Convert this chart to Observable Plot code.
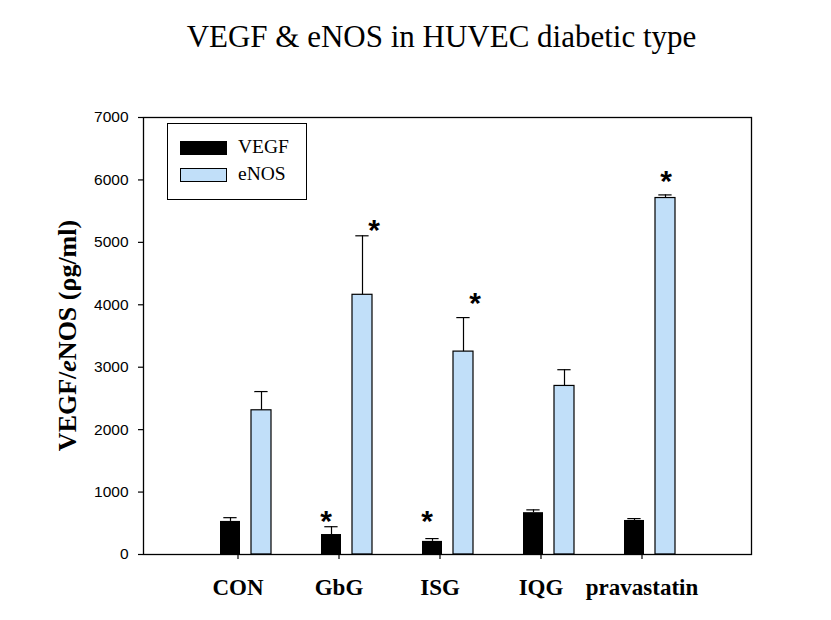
<!DOCTYPE html>
<html>
<head>
<meta charset="utf-8">
<script src="https://cdn.jsdelivr.net/npm/d3@7"></script>
<script src="https://cdn.jsdelivr.net/npm/@observablehq/plot@0.6"></script>
<style>
  html, body { margin: 0; padding: 0; background: #fff; }
  #wrap { position: relative; width: 831px; height: 620px; background: #fff; overflow: hidden; }
  #title { height: 80px; box-sizing: border-box; padding-top: 19px; padding-left: 52px; width: 831px;
           text-align: center; font-family: "Liberation Serif", "Times New Roman", serif; font-size: 31px;
           line-height: 1.15; color: #000; white-space: nowrap; }
  #legend { position: absolute; left: 167px; top: 123px; width: 140px; height: 77px; box-sizing: border-box;
            border: 1.3px solid #000; background: #fff; }
  .lg-row { position: absolute; left: 12px; height: 14px; }
  .lg-sw { position: absolute; left: 0; top: 0; width: 47px; height: 14px; box-sizing: border-box; }
  .lg-tx { position: absolute; left: 58px; top: -4px; font-family: "Liberation Serif", "Times New Roman", serif;
           font-size: 19.5px; line-height: 20px; color: #000; white-space: nowrap; }
</style>
</head>
<body>
<div id="wrap">
  <div id="title">VEGF &amp; eNOS in HUVEC diabetic type</div>
  <div id="chart"></div>
  <div id="legend"></div>
</div>
<script>
// ---- data ----
const categories = ["CON", "GbG", "ISG", "IQG", "pravastatin"];
const seriesNames = ["VEGF", "eNOS"];
const vegfMean = [530, 320, 210, 670, 545];
const vegfErr  = [60, 125, 45, 45, 30];
const enosMean = [2310, 4160, 3250, 2700, 5710];
const enosErr  = [300, 945, 545, 260, 50];
const yTicks = [0, 1000, 2000, 3000, 4000, 5000, 6000, 7000];
// significance markers (category, value level where the asterisk sits)
const vegfStarCats = ["GbG", "ISG"];
const vegfStarLevel = [636, 636];
const enosStarCats = ["GbG", "ISG", "pravastatin"];
const enosStarLevel = [5300, 4140, 6090];

const seriesColors = ["#000000", "#c1dff9"];

const vegfRows = categories.map((c, i) => ({cat: c, mean: vegfMean[i], err: vegfErr[i]}));
const enosRows = categories.map((c, i) => ({cat: c, mean: enosMean[i], err: enosErr[i]}));
const vegfStars = vegfStarCats.map((c, i) => ({cat: c, level: vegfStarLevel[i]}));
const enosStars = enosStarCats.map((c, i) => ({cat: c, level: enosStarLevel[i]}));

const serif = "Liberation Serif, Times New Roman, serif";
const sans = "Liberation Sans, Arial, sans-serif";

const starStyle = {text: () => "*", fontSize: 30, fontWeight: "bold", fontFamily: sans, fill: "black", dy: 7};

const chart = Plot.plot({
  width: 831,
  height: 540,
  marginTop: 37,
  marginBottom: 66,
  marginLeft: 143,
  marginRight: 80,
  style: {background: "#fff", color: "#000", overflow: "visible"},
  x: {type: "band", domain: categories, paddingInner: 0.5, paddingOuter: 0.75},
  y: {domain: [0, 7000]},
  marks: [
    Plot.barY(vegfRows, {x: "cat", y: "mean", fill: seriesColors[0], insetRight: 31}),
    Plot.barY(enosRows, {x: "cat", y: "mean", fill: seriesColors[1], stroke: "black", strokeWidth: 1.2, insetLeft: 31}),
    Plot.ruleX(vegfRows, {x: "cat", y1: "mean", y2: d => d.mean + d.err, dx: -15.5, stroke: "black", strokeWidth: 1.2}),
    Plot.tickY(vegfRows, {x: "cat", y: d => d.mean + d.err, insetLeft: 3.3, insetRight: 34.4, stroke: "black", strokeWidth: 1.2}),
    Plot.ruleX(enosRows, {x: "cat", y1: "mean", y2: d => d.mean + d.err, dx: 15.5, stroke: "black", strokeWidth: 1.2}),
    Plot.tickY(enosRows, {x: "cat", y: d => d.mean + d.err, insetLeft: 34.3, insetRight: 3.4, stroke: "black", strokeWidth: 1.2}),
    Plot.text(vegfStars, {x: "cat", y: "level", dx: -21, ...starStyle}),
    Plot.text(enosStars.filter(d => d.cat !== "pravastatin"), {x: "cat", y: "level", dx: 27, ...starStyle}),
    Plot.text(enosStars.filter(d => d.cat === "pravastatin"), {x: "cat", y: "level", dx: 16, ...starStyle}),
    Plot.frame({stroke: "black", strokeWidth: 1.3}),
    Plot.axisY({ticks: yTicks, tickFormat: d => String(d), tickSize: 5, tickPadding: 10, fontSize: 15.5, fontFamily: sans, label: null, strokeWidth: 1.2}),
    Plot.axisX({tickSize: 5, tickPadding: 19, fontSize: 23, fontWeight: "bold", fontFamily: serif, dx: -8, label: null, strokeWidth: 1.2})
  ]
});

document.getElementById("chart").appendChild(chart);

// y-axis title with italic "e"
const yLab = d3.select(chart).append("text")
  .attr("transform", `translate(76, ${(37 + (540 - 66)) / 2}) rotate(-90)`)
  .attr("text-anchor", "middle")
  .attr("font-family", serif)
  .attr("font-size", 26)
  .attr("font-weight", "bold")
  .attr("fill", "#000");
yLab.append("tspan").text("VEGF/");
yLab.append("tspan").attr("font-style", "italic").text("e");
yLab.append("tspan").text("NOS (ρg/ml)");

// legend
const legend = d3.select("#legend");
seriesNames.forEach((name, i) => {
  const row = legend.append("div").attr("class", "lg-row").style("top", (i === 0 ? 17 : 44) + "px");
  row.append("div").attr("class", "lg-sw")
    .style("background", seriesColors[i])
    .style("border", i === 0 ? "none" : "1px solid #000");
  row.append("div").attr("class", "lg-tx").text(name);
});
</script>
</body>
</html>
